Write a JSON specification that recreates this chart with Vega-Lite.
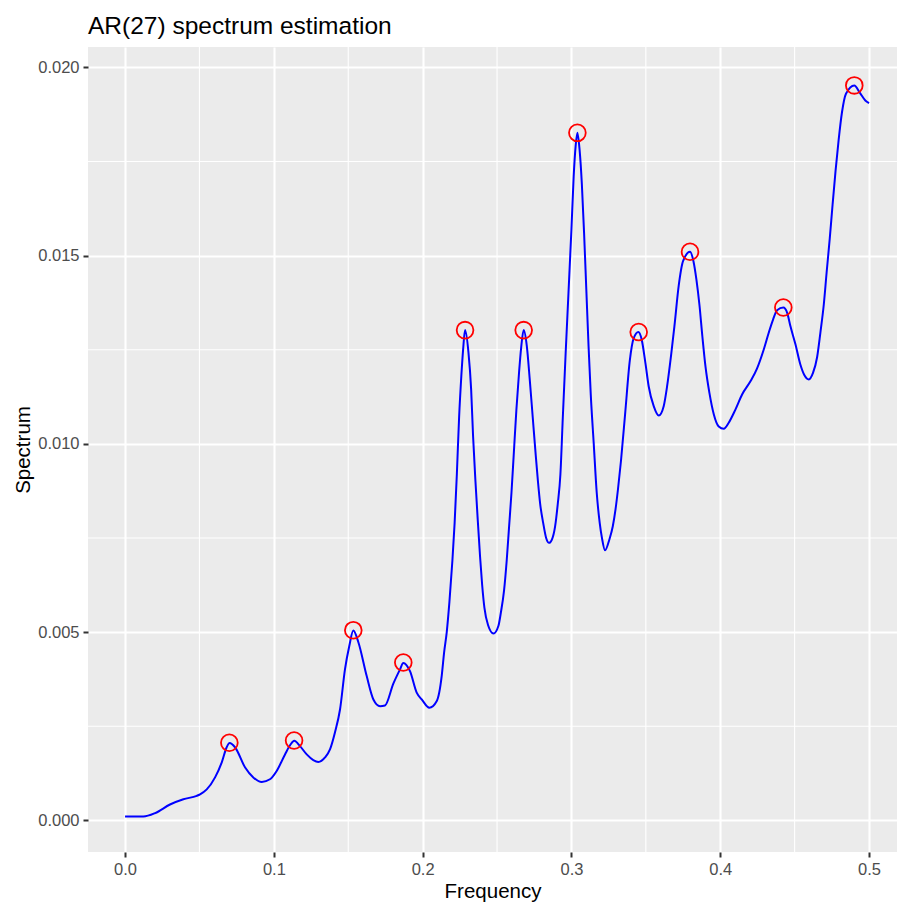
{
  "$schema": "https://vega.github.io/schema/vega-lite/v6.json",
  "autosize": "none",
  "width": 809,
  "height": 805,
  "padding": {"left": 88, "top": 47, "right": 0, "bottom": 58},
  "background": "white",
  "title": {
    "text": "AR(27) spectrum estimation",
    "anchor": "start",
    "frame": "group",
    "font": "Liberation Sans",
    "fontSize": 24.5,
    "fontWeight": "normal",
    "color": "black",
    "offset": 7
  },
  "config": {
    "view": {"stroke": null, "fill": "#EBEBEB"},
    "axis": {
      "domain": false,
      "grid": true,
      "gridColor": "white",
      "gridWidth": 2.1,
      "tickColor": "#333333",
      "tickSize": 5,
      "tickWidth": 2,
      "labelColor": "#4D4D4D",
      "labelFont": "Liberation Sans",
      "labelFontSize": 16.5,
      "labelPadding": 4,
      "titleFont": "Liberation Sans",
      "titleFontSize": 20.5,
      "titleFontWeight": "normal",
      "titleColor": "black",
      "titlePadding": 4
    }
  },
  "datasets": {
    "spec": [
      {"Frequency": 0.0000, "Spectrum": 0.00010},
      {"Frequency": 0.0123, "Spectrum": 0.00010},
      {"Frequency": 0.0202, "Spectrum": 0.00019},
      {"Frequency": 0.0302, "Spectrum": 0.00042},
      {"Frequency": 0.0392, "Spectrum": 0.00056},
      {"Frequency": 0.0482, "Spectrum": 0.00065},
      {"Frequency": 0.0504, "Spectrum": 0.00069},
      {"Frequency": 0.0549, "Spectrum": 0.00082},
      {"Frequency": 0.0605, "Spectrum": 0.00114},
      {"Frequency": 0.0650, "Spectrum": 0.00154},
      {"Frequency": 0.0683, "Spectrum": 0.00194},
      {"Frequency": 0.0703, "Spectrum": 0.00205},
      {"Frequency": 0.0739, "Spectrum": 0.00194},
      {"Frequency": 0.0806, "Spectrum": 0.00141},
      {"Frequency": 0.0862, "Spectrum": 0.00114},
      {"Frequency": 0.0919, "Spectrum": 0.00102},
      {"Frequency": 0.0974, "Spectrum": 0.00109},
      {"Frequency": 0.1019, "Spectrum": 0.00131},
      {"Frequency": 0.1075, "Spectrum": 0.00175},
      {"Frequency": 0.1110, "Spectrum": 0.00200},
      {"Frequency": 0.1137, "Spectrum": 0.00211},
      {"Frequency": 0.1176, "Spectrum": 0.00197},
      {"Frequency": 0.1221, "Spectrum": 0.00175},
      {"Frequency": 0.1265, "Spectrum": 0.00160},
      {"Frequency": 0.1299, "Spectrum": 0.00155},
      {"Frequency": 0.1344, "Spectrum": 0.00167},
      {"Frequency": 0.1378, "Spectrum": 0.00189},
      {"Frequency": 0.1411, "Spectrum": 0.00234},
      {"Frequency": 0.1445, "Spectrum": 0.00295},
      {"Frequency": 0.1478, "Spectrum": 0.00401},
      {"Frequency": 0.1507, "Spectrum": 0.00463},
      {"Frequency": 0.1534, "Spectrum": 0.00504},
      {"Frequency": 0.1568, "Spectrum": 0.00473},
      {"Frequency": 0.1624, "Spectrum": 0.00383},
      {"Frequency": 0.1669, "Spectrum": 0.00321},
      {"Frequency": 0.1714, "Spectrum": 0.00303},
      {"Frequency": 0.1747, "Spectrum": 0.00305},
      {"Frequency": 0.1803, "Spectrum": 0.00363},
      {"Frequency": 0.1848, "Spectrum": 0.00401},
      {"Frequency": 0.1870, "Spectrum": 0.00418},
      {"Frequency": 0.1915, "Spectrum": 0.00396},
      {"Frequency": 0.1960, "Spectrum": 0.00339},
      {"Frequency": 0.1994, "Spectrum": 0.00321},
      {"Frequency": 0.2045, "Spectrum": 0.00299},
      {"Frequency": 0.2095, "Spectrum": 0.00317},
      {"Frequency": 0.2128, "Spectrum": 0.00383},
      {"Frequency": 0.2144, "Spectrum": 0.00445},
      {"Frequency": 0.2162, "Spectrum": 0.00500},
      {"Frequency": 0.2180, "Spectrum": 0.00580},
      {"Frequency": 0.2200, "Spectrum": 0.00690},
      {"Frequency": 0.2215, "Spectrum": 0.00790},
      {"Frequency": 0.2230, "Spectrum": 0.00920},
      {"Frequency": 0.2245, "Spectrum": 0.01070},
      {"Frequency": 0.2260, "Spectrum": 0.01180},
      {"Frequency": 0.2272, "Spectrum": 0.01250},
      {"Frequency": 0.2285, "Spectrum": 0.01302},
      {"Frequency": 0.2308, "Spectrum": 0.01242},
      {"Frequency": 0.2326, "Spectrum": 0.01144},
      {"Frequency": 0.2339, "Spectrum": 0.01020},
      {"Frequency": 0.2355, "Spectrum": 0.00900},
      {"Frequency": 0.2370, "Spectrum": 0.00800},
      {"Frequency": 0.2386, "Spectrum": 0.00700},
      {"Frequency": 0.2400, "Spectrum": 0.00625},
      {"Frequency": 0.2415, "Spectrum": 0.00565},
      {"Frequency": 0.2440, "Spectrum": 0.00518},
      {"Frequency": 0.2476, "Spectrum": 0.00496},
      {"Frequency": 0.2509, "Spectrum": 0.00516},
      {"Frequency": 0.2525, "Spectrum": 0.00550},
      {"Frequency": 0.2547, "Spectrum": 0.00610},
      {"Frequency": 0.2565, "Spectrum": 0.00690},
      {"Frequency": 0.2581, "Spectrum": 0.00780},
      {"Frequency": 0.2597, "Spectrum": 0.00870},
      {"Frequency": 0.2612, "Spectrum": 0.00970},
      {"Frequency": 0.2630, "Spectrum": 0.01090},
      {"Frequency": 0.2648, "Spectrum": 0.01190},
      {"Frequency": 0.2662, "Spectrum": 0.01255},
      {"Frequency": 0.2679, "Spectrum": 0.01302},
      {"Frequency": 0.2700, "Spectrum": 0.01260},
      {"Frequency": 0.2720, "Spectrum": 0.01170},
      {"Frequency": 0.2740, "Spectrum": 0.01070},
      {"Frequency": 0.2760, "Spectrum": 0.00970},
      {"Frequency": 0.2775, "Spectrum": 0.00900},
      {"Frequency": 0.2790, "Spectrum": 0.00840},
      {"Frequency": 0.2810, "Spectrum": 0.00790},
      {"Frequency": 0.2830, "Spectrum": 0.00750},
      {"Frequency": 0.2850, "Spectrum": 0.00737},
      {"Frequency": 0.2868, "Spectrum": 0.00745},
      {"Frequency": 0.2890, "Spectrum": 0.00780},
      {"Frequency": 0.2908, "Spectrum": 0.00840},
      {"Frequency": 0.2926, "Spectrum": 0.00920},
      {"Frequency": 0.2942, "Spectrum": 0.01070},
      {"Frequency": 0.2961, "Spectrum": 0.01240},
      {"Frequency": 0.2980, "Spectrum": 0.01400},
      {"Frequency": 0.3000, "Spectrum": 0.01570},
      {"Frequency": 0.3015, "Spectrum": 0.01710},
      {"Frequency": 0.3028, "Spectrum": 0.01790},
      {"Frequency": 0.3040, "Spectrum": 0.01826},
      {"Frequency": 0.3055, "Spectrum": 0.01780},
      {"Frequency": 0.3070, "Spectrum": 0.01690},
      {"Frequency": 0.3085, "Spectrum": 0.01560},
      {"Frequency": 0.3100, "Spectrum": 0.01410},
      {"Frequency": 0.3115, "Spectrum": 0.01260},
      {"Frequency": 0.3130, "Spectrum": 0.01130},
      {"Frequency": 0.3150, "Spectrum": 0.01000},
      {"Frequency": 0.3170, "Spectrum": 0.00870},
      {"Frequency": 0.3190, "Spectrum": 0.00790},
      {"Frequency": 0.3205, "Spectrum": 0.00750},
      {"Frequency": 0.3226, "Spectrum": 0.00717},
      {"Frequency": 0.3255, "Spectrum": 0.00746},
      {"Frequency": 0.3278, "Spectrum": 0.00781},
      {"Frequency": 0.3296, "Spectrum": 0.00825},
      {"Frequency": 0.3313, "Spectrum": 0.00880},
      {"Frequency": 0.3333, "Spectrum": 0.00955},
      {"Frequency": 0.3362, "Spectrum": 0.01085},
      {"Frequency": 0.3392, "Spectrum": 0.01220},
      {"Frequency": 0.3418, "Spectrum": 0.01280},
      {"Frequency": 0.3450, "Spectrum": 0.01297},
      {"Frequency": 0.3472, "Spectrum": 0.01277},
      {"Frequency": 0.3497, "Spectrum": 0.01215},
      {"Frequency": 0.3519, "Spectrum": 0.01153},
      {"Frequency": 0.3553, "Spectrum": 0.01100},
      {"Frequency": 0.3587, "Spectrum": 0.01075},
      {"Frequency": 0.3620, "Spectrum": 0.01100},
      {"Frequency": 0.3643, "Spectrum": 0.01153},
      {"Frequency": 0.3669, "Spectrum": 0.01233},
      {"Frequency": 0.3692, "Spectrum": 0.01312},
      {"Frequency": 0.3721, "Spectrum": 0.01420},
      {"Frequency": 0.3750, "Spectrum": 0.01485},
      {"Frequency": 0.3797, "Spectrum": 0.01510},
      {"Frequency": 0.3820, "Spectrum": 0.01485},
      {"Frequency": 0.3840, "Spectrum": 0.01436},
      {"Frequency": 0.3860, "Spectrum": 0.01370},
      {"Frequency": 0.3880, "Spectrum": 0.01285},
      {"Frequency": 0.3901, "Spectrum": 0.01205},
      {"Frequency": 0.3927, "Spectrum": 0.01136},
      {"Frequency": 0.3957, "Spectrum": 0.01078},
      {"Frequency": 0.3990, "Spectrum": 0.01046},
      {"Frequency": 0.4024, "Spectrum": 0.01040},
      {"Frequency": 0.4057, "Spectrum": 0.01056},
      {"Frequency": 0.4102, "Spectrum": 0.01091},
      {"Frequency": 0.4147, "Spectrum": 0.01131},
      {"Frequency": 0.4203, "Spectrum": 0.01166},
      {"Frequency": 0.4247, "Spectrum": 0.01200},
      {"Frequency": 0.4292, "Spectrum": 0.01250},
      {"Frequency": 0.4326, "Spectrum": 0.01295},
      {"Frequency": 0.4355, "Spectrum": 0.01330},
      {"Frequency": 0.4382, "Spectrum": 0.01355},
      {"Frequency": 0.4424, "Spectrum": 0.01362},
      {"Frequency": 0.4450, "Spectrum": 0.01348},
      {"Frequency": 0.4472, "Spectrum": 0.01312},
      {"Frequency": 0.4505, "Spectrum": 0.01265},
      {"Frequency": 0.4539, "Spectrum": 0.01210},
      {"Frequency": 0.4566, "Spectrum": 0.01182},
      {"Frequency": 0.4595, "Spectrum": 0.01171},
      {"Frequency": 0.4624, "Spectrum": 0.01189},
      {"Frequency": 0.4651, "Spectrum": 0.01230},
      {"Frequency": 0.4673, "Spectrum": 0.01295},
      {"Frequency": 0.4696, "Spectrum": 0.01370},
      {"Frequency": 0.4715, "Spectrum": 0.01455},
      {"Frequency": 0.4736, "Spectrum": 0.01545},
      {"Frequency": 0.4755, "Spectrum": 0.01635},
      {"Frequency": 0.4775, "Spectrum": 0.01725},
      {"Frequency": 0.4796, "Spectrum": 0.01808},
      {"Frequency": 0.4818, "Spectrum": 0.01880},
      {"Frequency": 0.4845, "Spectrum": 0.01930},
      {"Frequency": 0.4901, "Spectrum": 0.01952},
      {"Frequency": 0.4939, "Spectrum": 0.01932},
      {"Frequency": 0.4975, "Spectrum": 0.01912},
      {"Frequency": 0.5000, "Spectrum": 0.01905}
    ],
    "peaks": [
      {"Frequency": 0.0701, "Spectrum": 0.00206},
      {"Frequency": 0.1136, "Spectrum": 0.00212},
      {"Frequency": 0.1534, "Spectrum": 0.00505},
      {"Frequency": 0.1870, "Spectrum": 0.00419},
      {"Frequency": 0.2285, "Spectrum": 0.01302},
      {"Frequency": 0.2679, "Spectrum": 0.01302},
      {"Frequency": 0.3040, "Spectrum": 0.01826},
      {"Frequency": 0.3452, "Spectrum": 0.01297},
      {"Frequency": 0.3797, "Spectrum": 0.01510},
      {"Frequency": 0.4424, "Spectrum": 0.01362},
      {"Frequency": 0.4901, "Spectrum": 0.01952}
    ],
    "minorX": [
      {"Frequency": 0.05}, {"Frequency": 0.15}, {"Frequency": 0.25}, {"Frequency": 0.35}, {"Frequency": 0.45}
    ],
    "minorY": [
      {"Spectrum": 0.0025}, {"Spectrum": 0.0075}, {"Spectrum": 0.0125}, {"Spectrum": 0.0175}
    ]
  },
  "layer": [
    {
      "data": {"name": "minorX"},
      "mark": {"type": "rule", "color": "white", "strokeWidth": 1.1},
      "encoding": {
        "x": {"field": "Frequency", "type": "quantitative"}
      }
    },
    {
      "data": {"name": "minorY"},
      "mark": {"type": "rule", "color": "white", "strokeWidth": 1.1},
      "encoding": {
        "y": {"field": "Spectrum", "type": "quantitative"}
      }
    },
    {
      "data": {"name": "spec"},
      "mark": {"type": "line", "color": "#0000FF", "strokeWidth": 2, "interpolate": "monotone"},
      "encoding": {
        "x": {
          "field": "Frequency", "type": "quantitative",
          "scale": {"domain": [-0.0249, 0.5188], "nice": false, "zero": false},
          "axis": {"title": "Frequency", "values": [0, 0.1, 0.2, 0.3, 0.4, 0.5], "format": ".1f"}
        },
        "y": {
          "field": "Spectrum", "type": "quantitative",
          "scale": {"domain": [-0.000842, 0.02054], "nice": false, "zero": false},
          "axis": {"title": "Spectrum", "values": [0, 0.005, 0.01, 0.015, 0.02], "format": ".3f"}
        }
      }
    },
    {
      "data": {"name": "peaks"},
      "mark": {"type": "point", "shape": "circle", "filled": false, "color": "#FF0000", "size": 280, "strokeWidth": 1.8, "opacity": 1},
      "encoding": {
        "x": {"field": "Frequency", "type": "quantitative"},
        "y": {"field": "Spectrum", "type": "quantitative"}
      }
    }
  ]
}
